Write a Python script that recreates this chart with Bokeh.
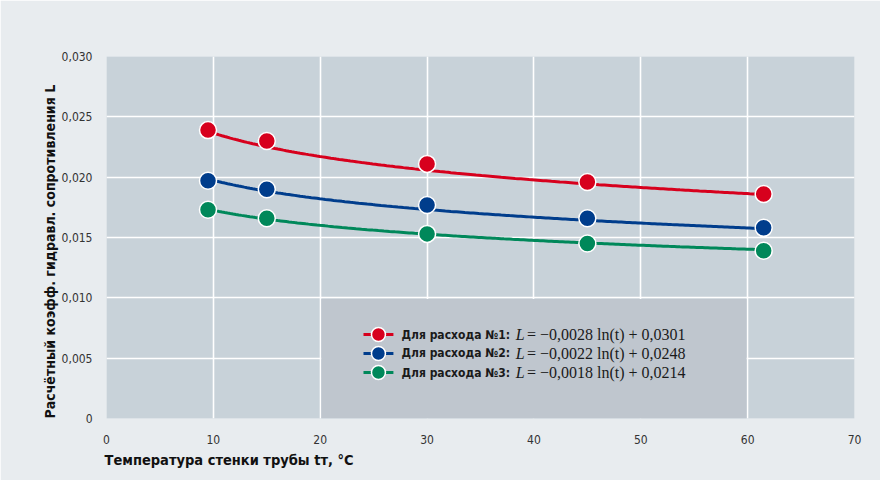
import numpy as np
from bokeh.plotting import figure
from bokeh.models import FixedTicker, CustomJSTickFormatter, Title
from bokeh.core.properties import value
from bokeh.embed import file_html
from bokeh.resources import INLINE

# ---- data ----
t_vals = [9.5, 15, 30, 45, 61.5]
flow1 = [0.0239, 0.0230, 0.0211, 0.0196, 0.0186]
flow2 = [0.0197, 0.0190, 0.0177, 0.0166, 0.0158]
flow3 = [0.0173, 0.0166, 0.0153, 0.0145, 0.0139]
coef_a = [-0.0028, -0.0022, -0.0018]
coef_b = [0.0301, 0.0248, 0.0214]
series_names = ["Для расхода №1:", "Для расхода №2:", "Для расхода №3:"]
formulas = ["= −0,0028 ln(t) + 0,0301", "= −0,0022 ln(t) + 0,0248", "= −0,0018 ln(t) + 0,0214"]
x_ticks = [0, 10, 20, 30, 40, 50, 60, 70]
y_ticks = [0, 0.005, 0.010, 0.015, 0.020, 0.025, 0.030]
x_title = "Температура стенки трубы tт, °C"
y_title = "Расчётный коэфф. гидравл. сопротивления L"
colors = ["#d7001d", "#003d8c", "#00885a"]

OUTER = "#e8ecef"
FRAME = "#c8d2d9"
BOX = "#bfc6ce"
SANS = "DejaVu Sans Condensed"

p = figure(width=880, height=480, x_range=(0, 70), y_range=(0, 0.030),
           output_backend="svg", toolbar_location=None,
           min_border_left=106, min_border_right=26, min_border_top=56, min_border_bottom=62)
p.background_fill_color = FRAME
p.border_fill_color = OUTER
p.outline_line_color = None

p.xaxis.ticker = FixedTicker(ticks=x_ticks)
p.yaxis.ticker = FixedTicker(ticks=y_ticks)
p.yaxis.formatter = CustomJSTickFormatter(code="return tick == 0 ? '0' : tick.toFixed(3).replace('.', ',');")
for ax in (p.xaxis, p.yaxis):
    ax.axis_line_color = None
    ax.major_tick_line_color = None
    ax.minor_tick_line_color = None
    ax.major_label_text_font = SANS
    ax.major_label_text_font_size = "12px"
    ax.major_label_text_color = "#333333"
p.xaxis.major_label_standoff = 10
p.yaxis.major_label_standoff = 8

for txt, side, so, fs in ((x_title, "below", 6, "14.5px"), (y_title, "left", 2, "14px")):
    p.add_layout(Title(text=txt, align="left", text_font=SANS, text_font_style="bold",
                       text_font_size=fs, text_color="#111111", standoff=so,
                       offset=-2 if side == "below" else 0), side)

p.grid.grid_line_color = "white"
p.grid.grid_line_width = 1.6
p.grid.grid_line_alpha = 1.0

# legend box (between gridlines)
p.quad(left=[20.1], right=[59.9], bottom=[0.0], top=[0.0099],
       fill_color=BOX, line_color=None)

# trend curves + points
tt = np.linspace(t_vals[0], t_vals[-1], 200)
for ys, a, b, c in zip([flow1, flow2, flow3], coef_a, coef_b, colors):
    p.line(tt, a * np.log(tt) + b, line_color=c, line_width=3)
    p.scatter(t_vals, ys, size=17, fill_color=c, line_color="white", line_width=1.5)

# legend entries
row_y = [0.00696, 0.00539, 0.00381]
for ry, name, form, c in zip(row_y, series_names, formulas, colors):
    p.line([24.05, 26.85], [ry, ry], line_color=c, line_width=3)
    p.scatter([25.45], [ry], size=14, fill_color=c, line_color="white", line_width=1.5)
    p.text([27.6], [ry], text=[name], text_font=value(SANS),
           text_font_style="bold", text_font_size="12px", text_baseline="middle",
           text_color="#1a1a1a")
    p.text([38.3], [ry], text=["L"], text_font=value("Liberation Serif"),
           text_font_style="italic", text_font_size="16px", text_baseline="middle",
           text_color="#1a1a1a")
    p.text([39.35], [ry], text=[form], text_font=value("Liberation Serif"),
           text_font_size="16px", text_baseline="middle", text_color="#1a1a1a")

open("out.html", "w").write(file_html(p, INLINE))
